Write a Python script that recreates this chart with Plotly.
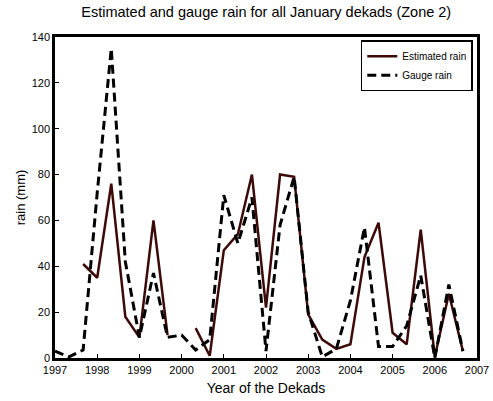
import plotly.graph_objects as go

# dekad index -> year position (3 January dekads per year)
dekad_pos = [1997 + k / 3 for k in range(30)]

estimated_rain = [None, None, 41, 35, 76, 18, 9, 60, 10, None,
                  13, 1, 47, 54, 80, 22, 80, 79, 19, 8,
                  4, 6, 44, 59, 11, 6, 56, 0.5, 28, 3]
gauge_rain = [3, 0.5, 3.5, 72, 135, 42, 9, 37, 9, 10,
              3.5, 8, 71, 50, 70, 3, 58, 79, 20, 0.5,
              4, 25, 57, 5, 5, 14, 36, 0, 32, 3]

x_ticks = list(range(1997, 2008))
y_ticks = list(range(0, 141, 20))

fig = go.Figure()
fig.add_trace(go.Scatter(
    x=dekad_pos, y=estimated_rain, mode="lines", name="Estimated rain",
    line=dict(color="#3d0a0a", width=2.5), connectgaps=False))
fig.add_trace(go.Scatter(
    x=dekad_pos, y=gauge_rain, mode="lines", name="Gauge rain",
    line=dict(color="black", width=3, dash="9px,5px"), connectgaps=False))

font = "Liberation Sans, Arial, sans-serif"
fig.update_layout(
    width=493, height=401,
    margin=dict(l=55, r=16, t=37, b=43),
    paper_bgcolor="white", plot_bgcolor="white",
    font=dict(family=font, color="black", size=11),
    title=dict(text="Estimated and gauge rain for all January dekads (Zone 2)",
               x=0.54, xanchor="center", y=0.983, yanchor="top",
               font=dict(size=14.5, family=font, color="black")),
    showlegend=True,
    legend=dict(x=0.99, y=0.99, xanchor="right", yanchor="top",
                bordercolor="black", borderwidth=1.5, bgcolor="white",
                font=dict(size=10, family=font), tracegroupgap=0,
                itemwidth=30),
)
fig.update_xaxes(
    range=[1997, 2007], tickmode="array", tickvals=x_ticks,
    ticktext=[str(v) for v in x_ticks], automargin=False,
    showgrid=False, zeroline=False, showline=True, mirror=True,
    linecolor="black", linewidth=2.5, ticks="inside", ticklen=4,
    tickcolor="black", tickfont=dict(size=11),
    title=dict(text="Year of the Dekads", font=dict(size=14), standoff=9))
fig.update_yaxes(
    range=[0, 140], tickmode="array", tickvals=y_ticks, automargin=False,
    showgrid=False, zeroline=False, showline=True, mirror=True,
    linecolor="black", linewidth=2.5, ticks="inside", ticklen=4,
    tickcolor="black", tickfont=dict(size=11),
    title=dict(text="rain (mm)", font=dict(size=13), standoff=4))

fig.write_html("out.html", config={"displayModeBar": False},
               post_script="document.body.style.margin='0';document.body.style.overflow='hidden';")
